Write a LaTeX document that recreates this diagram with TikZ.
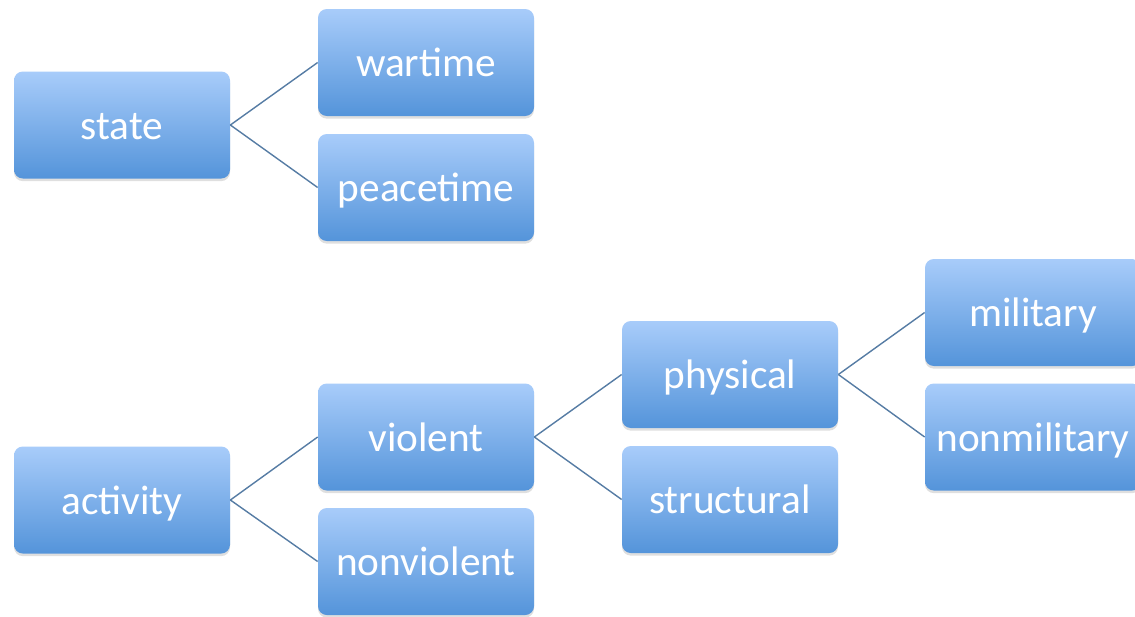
\documentclass[tikz,border=0pt]{standalone}
\usepackage{fontspec}
\setmainfont{Carlito}
\usepackage{tikz}
\usetikzlibrary{shadows}
\definecolor{boxtop}{RGB}{168,204,250}
\definecolor{boxbot}{RGB}{84,148,218}
\definecolor{edgeblue}{RGB}{86,124,164}
\tikzstyle{box}=[rectangle,rounded corners=5pt,minimum width=4.32cm,minimum height=2.14cm,inner sep=0pt,
    top color=boxtop,bottom color=boxbot,text=white,text height=0.56cm,text depth=0pt,
    font=\fontsize{23.5}{28}\selectfont,
    drop shadow={opacity=0.25,shadow xshift=0pt,shadow yshift=-1.5pt}]
\tikzstyle{edge} = [draw,edgeblue,line width=0.8pt,-]

\begin{document}
\begin{tikzpicture}
    \useasboundingbox (0,0) rectangle (22.7,-12.32);
    % the boxes, one column per level
    \foreach \pos/\name in {{(2.44,-2.50)/state}, {(8.52,-1.25)/wartime}, {(8.52,-3.75)/peacetime},
                            {(2.44,-10.0)/activity}, {(8.52,-8.74)/violent}, {(8.52,-11.23)/nonviolent},
                            {(14.6,-7.49)/physical}, {(14.6,-9.99)/structural},
                            {(20.66,-6.25)/military}, {(20.66,-8.74)/nonmilitary}}
        \node[box] (\name) at \pos {\name};

    % tree lines from parent to child
    \foreach \source/ \dest in {state/wartime, state/peacetime, activity/violent, activity/nonviolent,
                                violent/physical, violent/structural, physical/military, physical/nonmilitary}
        \path[edge] (\source.east) -- (\dest.west) ;

\end{tikzpicture}
\end{document}
